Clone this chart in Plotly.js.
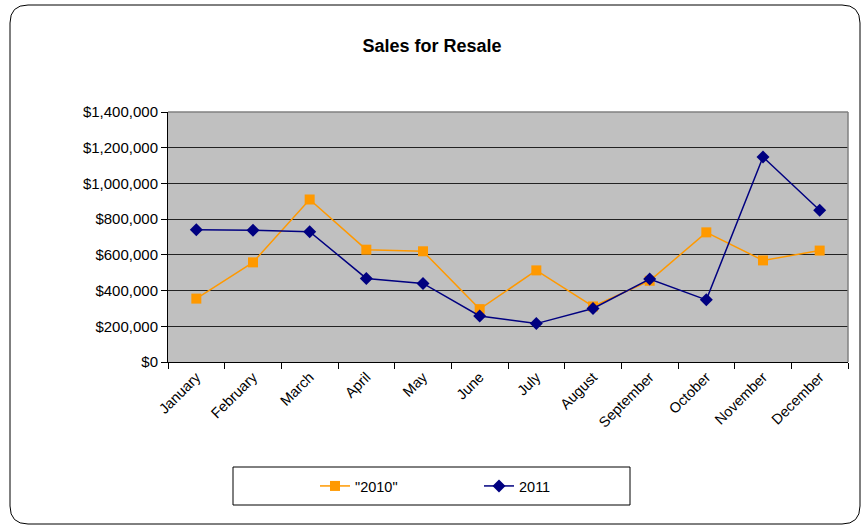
<!DOCTYPE html>
<html>
<head>
<meta charset="utf-8">
<script src="https://cdn.plot.ly/plotly-3.0.1.min.js"></script>
<style>html,body{margin:0;padding:0;background:#fff;}#chart{width:864px;height:528px;}</style>
</head>
<body>
<div id="chart"></div>
<script>
const months = ["January","February","March","April","May","June","July","August","September","October","November","December"];
const sales2010 = [355000, 558000, 910000, 629000, 620000, 296000, 513000, 311000, 455000, 726000, 569000, 624000];
const sales2011 = [740000, 738000, 730000, 468000, 440000, 258000, 215000, 300000, 465000, 348000, 1148000, 850000];
const yTicks = [0, 200000, 400000, 600000, 800000, 1000000, 1200000, 1400000];
const yTickText = ["$0","$200,000","$400,000","$600,000","$800,000","$1,000,000","$1,200,000","$1,400,000"];

const L = 168, R = 848, T = 112, B = 362;
const px = x => (x - L) / (R - L);
const py = y => (B - y) / (B - T);
function frame(x0, y0, x1, y1, r) {
  return `M ${px(x0+r)} ${py(y0)} L ${px(x1-r)} ${py(y0)} Q ${px(x1)} ${py(y0)} ${px(x1)} ${py(y0+r)} ` +
         `L ${px(x1)} ${py(y1-r)} Q ${px(x1)} ${py(y1)} ${px(x1-r)} ${py(y1)} ` +
         `L ${px(x0+r)} ${py(y1)} Q ${px(x0)} ${py(y1)} ${px(x0)} ${py(y1-r)} ` +
         `L ${px(x0)} ${py(y0+r)} Q ${px(x0)} ${py(y0)} ${px(x0+r)} ${py(y0)} Z`;
}

const traces = [
  {x: months, y: sales2010, name: '"2010"', type: 'scatter', mode: 'lines+markers',
   line: {color: '#FF9900', width: 1.5}, marker: {symbol: 'square', size: 10, color: '#FF9900'}},
  {x: months, y: sales2011, name: '2011', type: 'scatter', mode: 'lines+markers',
   line: {color: '#000080', width: 1.5}, marker: {symbol: 'diamond', size: 10, color: '#000080'}}
];

const layout = {
  width: 864, height: 528,
  margin: {l: L, r: 864 - R, t: T, b: 528 - B, autoexpand: false},
  paper_bgcolor: '#ffffff', plot_bgcolor: '#C0C0C0',
  font: {family: 'Liberation Sans, Arial, sans-serif', size: 15, color: '#000'},
  title: {text: '<b>Sales for Resale</b>', font: {size: 18, color: '#000'}, x: 0.5, xanchor: 'center', y: 1 - 46/528, yanchor: 'middle'},
  xaxis: {type: 'category', range: [-0.5, 11.5], tickson: 'boundaries', ticks: 'outside', ticklen: 6, tickcolor: '#000',
          tickangle: -45, showgrid: false, showline: true, linecolor: '#000', linewidth: 1, automargin: false,
          tickfont: {size: 14.5}, fixedrange: true, zeroline: false},
  yaxis: {range: [0, 1400000], tickvals: yTicks, ticktext: yTickText, ticks: 'outside', ticklen: 6, automargin: false,
          tickcolor: '#000', showgrid: true, gridcolor: '#222', gridwidth: 1, showline: true,
          linecolor: '#000', linewidth: 1, zeroline: false, tickfont: {size: 15}, fixedrange: true},
  showlegend: true,
  legend: {orientation: 'h', x: px(315), xanchor: 'left', y: py(486), yanchor: 'middle',
           borderwidth: 0, bgcolor: 'rgba(0,0,0,0)', entrywidth: 119, entrywidthmode: 'pixels',
           font: {size: 14.5}},
  shapes: [
    {type: 'line', xref: 'paper', yref: 'paper', x0: 0, x1: 1, y0: 1, y1: 1, line: {color: '#808080', width: 1.5}},
    {type: 'line', xref: 'paper', yref: 'paper', x0: 1, x1: 1, y0: 0, y1: 1, line: {color: '#808080', width: 1.5}},
    {type: 'rect', xref: 'paper', yref: 'paper', x0: px(233), x1: px(630), y0: py(467), y1: py(505), line: {color: '#000', width: 1}, fillcolor: '#fff', layer: 'below'},
    {type: 'path', xref: 'paper', yref: 'paper', path: frame(10, 5, 860, 524, 18), line: {color: '#000', width: 1}, layer: 'below'}
  ]
};

Plotly.newPlot('chart', traces, layout, {displayModeBar: false, staticPlot: true});
</script>
</body>
</html>
